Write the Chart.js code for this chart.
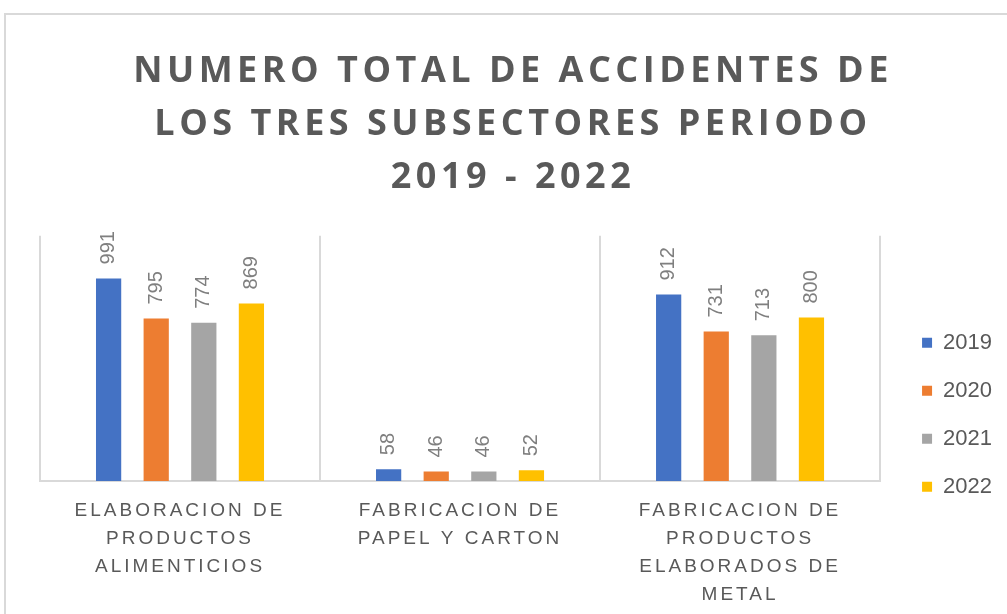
<!DOCTYPE html>
<html>
<head>
<meta charset="utf-8">
<script src="https://cdn.jsdelivr.net/npm/chart.js@4.4.1/dist/chart.umd.min.js"></script>
<style>
	html, body { margin: 0; padding: 0; background: #fff; }
	#frame {
		position: absolute; left: 4px; top: 13px; width: 1100px; height: 700px;
		border-left: 2px solid #d9d9d9; border-top: 2px solid #d9d9d9;
	}
	#wrap { position: absolute; left: 0; top: 0; width: 1007px; height: 614px; }
</style>
</head>
<body>
<div id="frame"></div>
<div id="wrap"><canvas id="myChart" width="1007" height="614"></canvas></div>
<script>
const titleLines = [
	"NUMERO TOTAL DE ACCIDENTES DE",
	"LOS TRES SUBSECTORES PERIODO",
	"2019 - 2022",
];
const categories = [
	["ELABORACION DE", "PRODUCTOS", "ALIMENTICIOS"],
	["FABRICACION DE", "PAPEL Y CARTON"],
	["FABRICACION DE", "PRODUCTOS", "ELABORADOS DE", "METAL"],
];
const years = ["2019", "2020", "2021", "2022"];
const values2019 = [991, 58, 912];
const values2020 = [795, 46, 731];
const values2021 = [774, 46, 713];
const values2022 = [869, 52, 800];
const colors = ["#4472C4", "#ED7D31", "#A5A5A5", "#FFC000"];

const grey = "#595959";
const sans = "'Liberation Sans'";

// canvas letterSpacing for title and category labels, legend placement
const spacingPlugin = {
	id: "spacing",
	afterInit(chart) {
		const title = chart.titleBlock;
		const drawTitle = title.draw.bind(title);
		title.draw = function (area) {
			chart.ctx.save();
			chart.ctx.letterSpacing = "4.5px";
			drawTitle(area);
			chart.ctx.restore();
		};
	},
	afterLayout(chart) {
		const x = chart.scales.x;
		if (!x._spaced) {
			const drawLabels = x.drawLabels.bind(x);
			x.drawLabels = function (area) {
				chart.ctx.save();
				chart.ctx.letterSpacing = "3px";
				drawLabels(area);
				chart.ctx.restore();
			};
			x._spaced = true;
		}
		const lg = chart.legend;
		const pad = lg.options.labels.padding;
		const w = lg.right - lg.left;
		lg.left = chart.chartArea.right + 42 - pad;
		lg.right = lg.left + w;
		lg.top = chart.chartArea.top + 70;
		lg.bottom = lg.top + pad + 4 * (22 + pad);
	},
};

// rotated value labels above the bars
const valueLabels = {
	id: "valueLabels",
	afterDatasetsDraw(chart) {
		const ctx = chart.ctx;
		ctx.save();
		ctx.font = "20px " + sans;
		ctx.fillStyle = "#7f7f7f";
		ctx.textAlign = "left";
		ctx.textBaseline = "middle";
		chart.data.datasets.forEach(function (ds, i) {
			chart.getDatasetMeta(i).data.forEach(function (bar, j) {
				ctx.save();
				ctx.translate(bar.x, bar.y - 14);
				ctx.rotate(-Math.PI / 2);
				ctx.fillText(String(ds.data[j]), 0, 0);
				ctx.restore();
			});
		});
		ctx.restore();
	},
};

const allValues = [values2019, values2020, values2021, values2022];

const ctx = document.getElementById("myChart").getContext("2d");
const myChart = new Chart(ctx, {
	type: "bar",
	data: {
		labels: categories,
		datasets: years.map(function (year, i) {
			return {
				label: year,
				data: allValues[i],
				backgroundColor: colors[i],
				categoryPercentage: 0.68,
				barPercentage: 0.53,
			};
		}),
	},
	plugins: [spacingPlugin, valueLabels],
	options: {
		responsive: false,
		animation: false,
		layout: { padding: { left: 40, right: 21, top: 0, bottom: 0 } },
		plugins: {
			title: {
				display: true,
				text: titleLines,
				color: grey,
				font: { family: "'Open Sans'", size: 36, weight: "bold", lineHeight: 1.47 },
				padding: { top: 45, bottom: 32 },
			},
			legend: {
				position: "right",
				labels: {
					boxWidth: 10,
					boxHeight: 10,
					padding: 26,
					color: grey,
					font: { family: sans, size: 22 },
				},
			},
			tooltip: { enabled: false },
		},
		scales: {
			x: {
				grid: { offset: true, color: "#d9d9d9", lineWidth: 2, drawTicks: false },
				border: { color: "#d9d9d9", width: 2 },
				ticks: {
					color: grey,
					font: { family: sans, size: 19, lineHeight: 1.47 },
					padding: 16,
					maxRotation: 0,
					autoSkip: false,
				},
				afterFit(scale) {
					scale.height = 133;
				},
			},
			y: { display: false, min: 0, max: 1200 },
		},
	},
});
</script>
</body>
</html>
